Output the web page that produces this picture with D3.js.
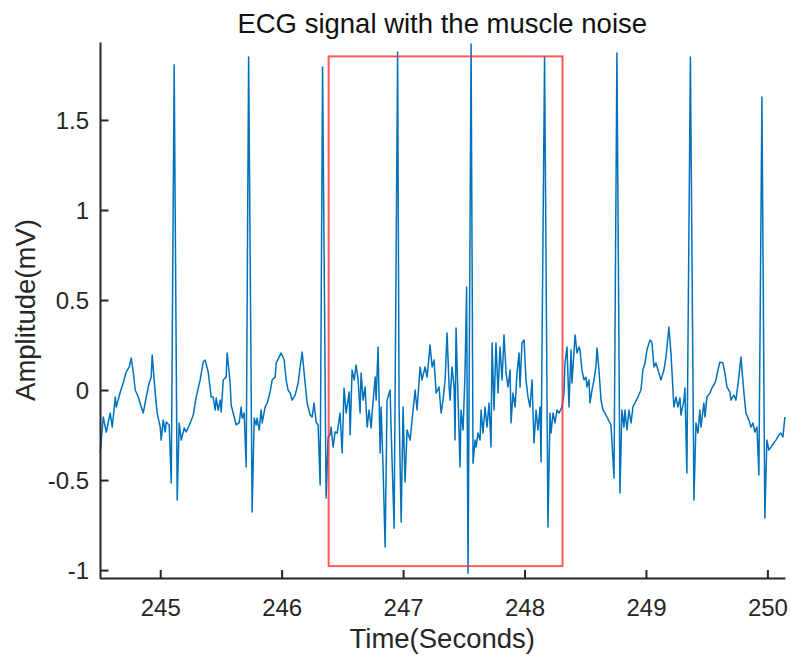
<!DOCTYPE html>
<html>
<head>
<meta charset="utf-8">
<script src="https://cdn.jsdelivr.net/npm/d3@7"></script>
<style>
  html, body { margin: 0; padding: 0; background: #ffffff; }
  svg { display: block; }
  text { font-family: "Liberation Sans", Arial, Helvetica, sans-serif; }
</style>
</head>
<body>
<svg id="chart" width="791" height="659"></svg>
<script>
// ---- data ----
const time = [
244.506,244.531,244.556,244.588,244.605,244.630,244.638,244.671,244.695,244.720,
244.745,244.761,244.778,244.794,244.819,244.844,244.860,244.885,244.909,244.926,
244.934,244.959,244.975,245.000,245.008,245.025,245.041,245.049,245.074,245.091,
245.115,245.140,245.156,245.173,245.198,245.214,245.247,245.272,245.296,245.329,
245.354,245.370,245.395,245.420,245.436,245.453,245.461,245.477,245.494,245.502,
245.519,245.543,245.551,245.576,245.584,245.609,245.626,245.650,245.667,245.675,
245.691,245.708,245.728,245.757,245.774,245.790,245.798,245.815,245.831,245.840,
245.864,245.881,245.905,245.922,245.947,245.955,245.979,245.996,246.021,246.037,
246.053,246.070,246.086,246.111,246.136,246.152,246.169,246.193,246.210,246.235,
246.251,246.267,246.284,246.300,246.317,246.337,246.366,246.383,246.399,246.407,
246.424,246.440,246.457,246.481,246.498,246.514,246.531,246.556,246.564,246.580,
246.597,246.613,246.630,246.646,246.654,246.671,246.687,246.704,246.720,246.737,
246.745,246.770,246.778,246.794,246.811,246.819,246.835,246.852,246.868,246.893,
246.901,246.926,246.955,246.967,246.984,247.000,247.016,247.033,247.058,247.074,
247.091,247.099,247.115,247.140,247.156,247.181,247.198,247.222,247.239,247.255,
247.272,247.296,247.313,247.329,247.346,247.362,247.379,247.387,247.403,247.420,
247.428,247.436,247.453,247.469,247.477,247.494,247.510,247.523,247.535,247.560,
247.576,247.593,247.601,247.617,247.634,247.642,247.658,247.675,247.691,247.708,
247.724,247.733,247.749,247.765,247.782,247.798,247.815,247.831,247.848,247.864,
247.881,247.889,247.905,247.922,247.938,247.955,247.963,247.979,247.996,248.012,
248.029,248.045,248.062,248.078,248.095,248.111,248.128,248.136,248.165,248.193,
248.210,248.218,248.235,248.251,248.267,248.284,248.309,248.325,248.333,248.350,
248.366,248.383,248.391,248.407,248.416,248.432,248.449,248.457,248.473,248.490,
248.506,248.514,248.531,248.539,248.556,248.572,248.588,248.597,248.613,248.630,
248.646,248.663,248.679,248.704,248.712,248.737,248.761,248.786,248.802,248.819,
248.827,248.844,248.860,248.877,248.893,248.909,248.934,248.959,248.975,248.992,
249.008,249.033,249.049,249.066,249.082,249.107,249.123,249.148,249.165,249.189,
249.206,249.230,249.247,249.263,249.280,249.288,249.313,249.321,249.337,249.366,
249.395,249.412,249.428,249.444,249.453,249.477,249.486,249.502,249.527,249.543,
249.568,249.576,249.593,249.609,249.634,249.650,249.667,249.691,249.700,249.724,
249.741,249.765,249.782,249.807,249.823,249.848,249.864,249.881,249.897,249.914,
249.930,249.955,249.979,249.996,250.012,250.029,250.053,250.070,250.095,250.111,
250.128,250.144
];
const amplitude = [
-0.350,-0.150,-0.233,-0.128,-0.206,-0.039,-0.094,-0.011,0.039,0.100,
0.128,0.178,0.100,0.000,-0.039,-0.094,-0.128,-0.039,0.039,0.072,
0.194,-0.017,-0.128,-0.206,-0.278,-0.167,-0.233,-0.178,-0.194,-0.517,
1.806,-0.611,-0.183,-0.278,-0.211,-0.233,-0.183,-0.139,-0.039,0.056,
0.156,0.167,0.100,-0.039,-0.039,-0.111,-0.044,-0.111,-0.056,-0.122,
0.056,0.072,0.206,0.039,-0.083,-0.150,-0.194,-0.183,-0.094,-0.156,
-0.128,-0.428,1.850,-0.678,-0.156,-0.194,-0.156,-0.222,-0.111,-0.183,
-0.094,-0.072,-0.011,0.056,0.072,0.150,0.183,0.206,0.167,0.056,
0.000,-0.017,-0.056,-0.028,0.039,0.128,0.211,0.039,-0.072,-0.139,
-0.150,-0.072,-0.178,-0.194,-0.528,1.794,-0.600,-0.261,-0.250,-0.206,
-0.317,-0.233,-0.239,-0.128,-0.350,0.011,-0.128,-0.011,-0.250,0.111,
0.056,0.139,0.056,-0.128,0.094,-0.056,0.017,-0.206,-0.111,-0.211,
-0.128,0.072,-0.056,0.239,-0.350,-0.094,-0.428,-0.872,-0.056,0.000,
-0.206,-0.767,1.878,-0.094,-0.733,-0.094,-0.511,-0.222,-0.278,-0.167,
-0.056,0.000,-0.111,0.128,0.056,0.128,0.072,0.250,0.128,0.167,
-0.017,0.017,-0.128,-0.056,0.056,0.317,0.017,-0.056,0.128,0.017,
-0.278,0.344,-0.056,-0.428,-0.111,-0.222,0.094,0.572,-1.017,1.922,
-0.406,-0.278,-0.317,-0.239,-0.278,-0.111,-0.239,-0.094,-0.206,-0.072,
-0.317,0.261,-0.111,0.261,-0.017,0.239,0.056,0.306,0.094,0.017,
0.111,-0.183,-0.017,-0.094,0.094,0.206,0.017,0.261,0.278,0.056,
-0.039,-0.094,0.056,-0.294,-0.111,-0.222,-0.094,-0.400,1.850,-0.761,
-0.128,-0.239,-0.128,-0.183,-0.111,-0.128,-0.094,-0.017,0.150,0.239,
-0.094,0.222,0.039,0.206,0.306,0.206,0.239,0.222,0.111,0.056,
0.072,0.017,0.056,-0.072,0.000,0.056,0.128,0.233,0.111,-0.056,
-0.111,-0.128,-0.150,-0.183,-0.194,-0.489,1.872,-0.572,-0.111,-0.206,
-0.111,-0.222,-0.111,-0.183,-0.094,-0.072,-0.039,0.000,0.111,0.150,
0.222,0.278,0.267,0.128,0.150,0.094,0.056,0.111,0.183,0.350,
0.206,-0.094,-0.039,-0.094,-0.044,-0.139,-0.056,0.011,-0.461,1.850,
-0.611,-0.183,-0.239,-0.111,-0.206,-0.072,-0.150,-0.039,-0.017,0.011,
0.039,0.056,0.111,0.156,0.150,0.094,0.017,-0.011,-0.056,-0.028,
-0.056,0.072,0.183,-0.017,-0.128,-0.167,-0.206,-0.183,-0.233,-0.206,
-0.472,1.628,-0.711,-0.278,-0.333,-0.317,-0.294,-0.278,-0.250,-0.239,
-0.261,-0.150
];
const xTicks = [245, 246, 247, 248, 249, 250];
const xTickLabels = ["245", "246", "247", "248", "249", "250"];
const yTicks = [-1, -0.5, 0, 0.5, 1, 1.5];
const yTickLabels = ["-1", "-0.5", "0", "0.5", "1", "1.5"];
const xDomain = [244.5, 250.145];
const yDomain = [-1.044, 1.933];
// highlight box: [t0, t1, v0, v1]
const highlight = [246.387, 248.313, -0.978, 1.853];
const titleText = "ECG signal with the muscle noise";
const xLabel = "Time(Seconds)";
const yLabel = "Amplitude(mV)";

// ---- drawing ----
(function () {
  const svg = d3.select("#chart");
  const pLeft = 99.5, pRight = 785, pTop = 42, pBottom = 578;
  const x = d3.scaleLinear().domain(xDomain).range([pLeft, pRight]);
  const y = d3.scaleLinear().domain(yDomain).range([pBottom, pTop]);
  const axisColor = "#262626";

  // signal line
  const pts = time.map((t, i) => [t, amplitude[i]]);
  const line = d3.line().x(d => x(d[0])).y(d => y(d[1]));
  svg.append("path")
    .datum(pts)
    .attr("d", line)
    .attr("fill", "none")
    .attr("stroke", "#0072BD")
    .attr("stroke-width", 1.5)
    .attr("stroke-linejoin", "round");

  // highlight rectangle
  svg.append("rect")
    .attr("x", x(highlight[0]))
    .attr("y", y(highlight[3]))
    .attr("width", x(highlight[1]) - x(highlight[0]))
    .attr("height", y(highlight[2]) - y(highlight[3]))
    .attr("fill", "none")
    .attr("stroke", "#ff3030")
    .attr("stroke-opacity", 0.8)
    .attr("stroke-width", 2);

  // x axis
  const xAxis = d3.axisBottom(x)
    .tickValues(xTicks)
    .tickFormat((d, i) => xTickLabels[i])
    .tickSizeInner(-8)
    .tickSizeOuter(0);
  const gx = svg.append("g").attr("transform", `translate(0,${pBottom})`).call(xAxis);
  gx.select(".domain").attr("stroke", axisColor).attr("stroke-width", 2);
  gx.selectAll(".tick line").attr("stroke", axisColor).attr("stroke-width", 2);
  gx.selectAll(".tick text")
    .attr("y", 38).attr("dy", null)
    .attr("fill", axisColor)
    .style("font-size", "24px");

  // y axis
  const yAxis = d3.axisLeft(y)
    .tickValues(yTicks)
    .tickFormat((d, i) => yTickLabels[i])
    .tickSizeInner(-8.5)
    .tickSizeOuter(0);
  const gy = svg.append("g").attr("transform", `translate(${pLeft + 0.5},0)`).call(yAxis);
  gy.select(".domain").attr("stroke", axisColor).attr("stroke-width", 2);
  gy.selectAll(".tick line").attr("stroke", axisColor).attr("stroke-width", 2);
  gy.selectAll(".tick text")
    .attr("x", -11)
    .attr("dy", "0.36em")
    .attr("fill", axisColor)
    .style("font-size", "24px");

  // title
  svg.append("text")
    .attr("x", (pLeft + pRight) / 2)
    .attr("y", 33)
    .attr("text-anchor", "middle")
    .attr("fill", "#111")
    .style("font-size", "27.5px")
    .text(titleText);

  // x label
  svg.append("text")
    .attr("x", (pLeft + pRight) / 2)
    .attr("y", 648)
    .attr("text-anchor", "middle")
    .attr("fill", axisColor)
    .style("font-size", "27.5px")
    .text(xLabel);

  // y label
  svg.append("text")
    .attr("transform", `translate(35,${(pTop + pBottom) / 2}) rotate(-90)`)
    .attr("text-anchor", "middle")
    .attr("fill", axisColor)
    .style("font-size", "27.5px")
    .text(yLabel);
})();
</script>
</body>
</html>
